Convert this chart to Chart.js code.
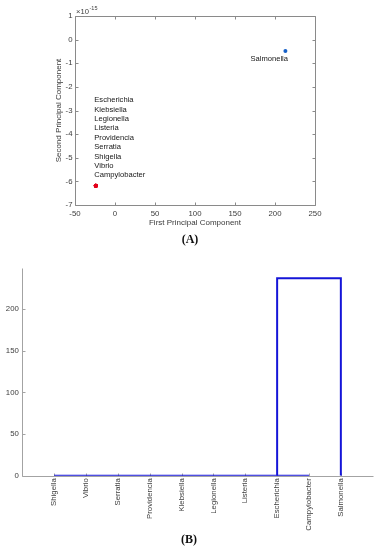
<!DOCTYPE html>
<html>
<head>
<meta charset="utf-8">
<script src="https://cdn.jsdelivr.net/npm/chart.js@4.4.0/dist/chart.umd.min.js"></script>
<style>
  html, body { margin: 0; padding: 0; background: #fff; }
  #wrap { position: relative; width: 379px; height: 550px; }
  canvas { position: absolute; left: 0; }
  #pcaChart { top: 0; }
  #dendroChart { top: 245px; }
</style>
</head>
<body>
<div id="wrap">
  <canvas id="pcaChart" width="379" height="250"></canvas>
  <canvas id="dendroChart" width="379" height="305"></canvas>
</div>
<script>
// (A) PCA scores - second component is in units of 1e-15
const species = ['Escherichia', 'Klebsiella', 'Legionella', 'Listeria', 'Providencia', 'Serratia', 'Shigella', 'Vibrio', 'Campylobacter', 'Salmonella'];
const firstPC = [-24, -24, -24, -24, -24, -24, -24, -24, -24, 213];
const secondPC = [-6.18, -6.18, -6.18, -6.18, -6.18, -6.18, -6.18, -6.18, -6.18, -0.48];
const pointColors = ['#e3001b', '#e3001b', '#e3001b', '#e3001b', '#e3001b', '#e3001b', '#e3001b', '#e3001b', '#e3001b', '#1560c8'];

// (B) dendrogram, leaves in plotted order
const leafOrder = ['Shigella', 'Vibrio', 'Serratia', 'Providencia', 'Klebsiella', 'Legionella', 'Listeria', 'Escherichia', 'Campylobacter', 'Salmonella'];
const leafPos = [1, 2, 3, 4, 5, 6, 7, 8, 9, 10];
const baseLinkX = [1, 9];
const baseLinkY = [0, 0];
const topLinkX = [8, 8, 10, 10];
const topLinkY = [0, 237, 237, 0];
const heightTicks = [0, 50, 100, 150, 200];

const tickText = '#3c3c3c';
Chart.defaults.font.family = "'Liberation Sans', Arial, sans-serif";
Chart.defaults.font.size = 7.8;
Chart.defaults.color = tickText;

// matlab style axes: lines + inward tick marks
const matlabAxes = {
    id: 'matlabAxes',
    beforeDatasetsDraw(chart, args, opts) {
        const {ctx, chartArea: a, scales: {x, y}} = chart;
        const px = v => Math.round(v) + 0.5;
        const len = opts.tickLen || 3;
        ctx.save();
        ctx.strokeStyle = opts.color;
        ctx.lineWidth = 1;
        ctx.beginPath();
        ctx.moveTo(px(a.left), px(a.top));
        ctx.lineTo(px(a.left), px(a.bottom));
        ctx.lineTo(px(a.right), px(a.bottom));
        if (opts.box) {
            ctx.lineTo(px(a.right), px(a.top));
            ctx.lineTo(px(a.left), px(a.top));
        }
        x.ticks.forEach(t => {
            const p = px(x.getPixelForValue(t.value));
            ctx.moveTo(p, px(a.bottom));
            ctx.lineTo(p, px(a.bottom) - len);
            if (opts.box) {
                ctx.moveTo(p, px(a.top));
                ctx.lineTo(p, px(a.top) + len);
            }
        });
        y.ticks.forEach(t => {
            const p = px(y.getPixelForValue(t.value));
            ctx.moveTo(px(a.left), p);
            ctx.lineTo(px(a.left) + len, p);
            if (opts.box) {
                ctx.moveTo(px(a.right), p);
                ctx.lineTo(px(a.right) - len, p);
            }
        });
        ctx.stroke();
        ctx.restore();
    }
};

// (A) / (B) panel tag
const panelTag = {
    id: 'panelTag',
    afterDraw(chart, args, opts) {
        const ctx = chart.ctx;
        ctx.save();
        ctx.font = 'bold 12px "Liberation Serif", "Times New Roman", serif';
        ctx.fillStyle = '#111';
        ctx.textAlign = 'center';
        ctx.textBaseline = 'middle';
        ctx.fillText(opts.text, opts.x, opts.y);
        ctx.restore();
    }
};

// species names next to the PCA points, plus the x10^-15 exponent
const pcaLabels = {
    id: 'pcaLabels',
    afterDatasetsDraw(chart) {
        const {ctx, scales: {x, y}} = chart;
        ctx.save();
        ctx.font = "7.6px 'Liberation Sans', Arial, sans-serif";
        ctx.fillStyle = '#161616';
        ctx.textBaseline = 'middle';
        const groups = {};
        species.forEach((s, i) => {
            const k = firstPC[i] + ',' + secondPC[i];
            (groups[k] = groups[k] || {i: i, names: []}).names.push(s);
        });
        Object.values(groups).forEach(g => {
            const cx = x.getPixelForValue(firstPC[g.i]);
            const cy = y.getPixelForValue(secondPC[g.i]);
            if (g.names.length > 1) {
                ctx.textAlign = 'left';
                g.names.slice().reverse().forEach((n, j) => {
                    ctx.fillText(n, cx - 1.5, cy - 10.4 - j * 9.38);
                });
            } else {
                ctx.textAlign = 'right';
                ctx.fillText(g.names[0], cx + 2.6, cy + 8.3);
            }
        });
        // exponent above the y axis
        ctx.fillStyle = tickText;
        ctx.textAlign = 'left';
        ctx.fillText('\u00d710', chart.chartArea.left + 1, 12);
        ctx.font = "5.5px 'Liberation Sans', Arial, sans-serif";
        ctx.fillText('-15', chart.chartArea.left + 14.5, 8.5);
        ctx.restore();
    }
};

new Chart(document.getElementById('pcaChart'), {
    type: 'scatter',
    data: {
        datasets: [{
            data: firstPC.map((v, i) => ({x: v, y: secondPC[i]})),
            backgroundColor: pointColors,
            borderColor: pointColors,
            pointRadius: 2,
            pointBorderWidth: 0
        }]
    },
    options: {
        responsive: false,
        animation: false,
        layout: {padding: {left: 0, right: 64, top: 16, bottom: 0}},
        plugins: {
            legend: {display: false},
            tooltip: {enabled: false},
            matlabAxes: {color: '#8a8a8a', box: true, tickLen: 3},
            panelTag: {text: '(A)', x: 190, y: 240}
        },
        scales: {
            x: {
                type: 'linear',
                min: -50,
                max: 250,
                grid: {display: false, drawTicks: false, tickLength: 0},
                border: {display: false},
                ticks: {stepSize: 50, padding: 4.5},
                title: {display: true, text: 'First Principal Component', color: '#3a3a3a',
                    font: {size: 8}, padding: {top: 0, bottom: 22}},
                afterFit: s => { s.height = 45; }
            },
            y: {
                type: 'linear',
                min: -7,
                max: 1,
                grid: {display: false, drawTicks: false, tickLength: 0},
                border: {display: false},
                ticks: {stepSize: 1, padding: 2.5},
                title: {display: true, text: 'Second Principal Component', color: '#3a3a3a',
                    font: {size: 8}, padding: {top: 53.5, bottom: 0}},
                afterFit: s => { s.width = 75; }
            }
        }
    },
    plugins: [matlabAxes, pcaLabels, panelTag]
});

new Chart(document.getElementById('dendroChart'), {
    type: 'scatter',
    data: {
        datasets: [
            {
                data: baseLinkX.map((v, i) => ({x: v, y: baseLinkY[i]})),
                showLine: true,
                borderColor: '#1515d8',
                borderWidth: 2,
                pointRadius: 0
            },
            {
                data: topLinkX.map((v, i) => ({x: v, y: topLinkY[i]})),
                showLine: true,
                borderColor: '#1515d8',
                borderWidth: 2,
                pointRadius: 0
            }
        ]
    },
    options: {
        responsive: false,
        animation: false,
        layout: {padding: {left: 0, right: 6.3, top: 23.3, bottom: 0}},
        plugins: {
            legend: {display: false},
            tooltip: {enabled: false},
            matlabAxes: {color: '#a3a3a3', box: false, tickLen: 3},
            panelTag: {text: '(B)', x: 189, y: 295}
        },
        scales: {
            x: {
                type: 'linear',
                min: 0,
                max: 11,
                grid: {display: false, drawTicks: false, tickLength: 0},
                border: {display: false},
                afterBuildTicks: s => { s.ticks = leafPos.map(v => ({value: v})); },
                ticks: {
                    autoSkip: false,
                    minRotation: 90,
                    maxRotation: 90,
                    padding: 2.5,
                    callback: v => leafOrder[v - 1]
                },
                afterFit: s => { s.height = 74.3; }
            },
            y: {
                type: 'linear',
                min: 0,
                max: 249,
                grid: {display: false, drawTicks: false, tickLength: 0},
                border: {display: false},
                afterBuildTicks: s => { s.ticks = heightTicks.map(v => ({value: v})); },
                ticks: {padding: 3.5},
                afterFit: s => { s.width = 22.3; }
            }
        }
    },
    plugins: [matlabAxes, panelTag]
});
</script>
</body>
</html>
